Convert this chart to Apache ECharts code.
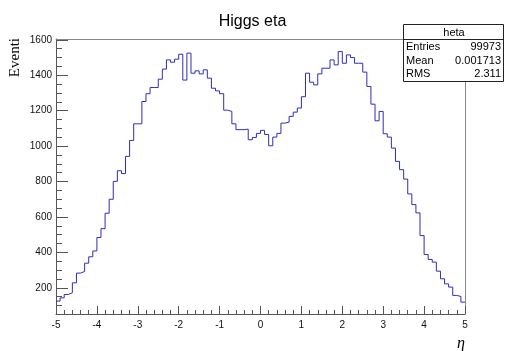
<!DOCTYPE html>
<html><head><meta charset="utf-8">
<script src="https://cdn.jsdelivr.net/npm/echarts@6/dist/echarts.min.js"></script>
<style>html,body{margin:0;padding:0;background:#fff}#c{width:505px;height:351px}</style>
</head><body><div id="c"></div>
<script>
// ---- data ----
const titleText = 'Higgs eta';
const xMin = -5, xMax = 5;
const counts = [
  125, 143, 162, 172, 228, 283, 292, 339, 375, 408,
  484, 534, 621, 700, 801, 861, 845, 942, 1032, 1126,
  1126, 1252, 1296, 1331, 1331, 1378, 1435, 1487, 1474, 1491,
  1519, 1373, 1525, 1412, 1425, 1408, 1431, 1384, 1327, 1312,
  1296, 1203, 1196, 1126, 1093, 1093, 1096, 1036, 1049, 1072,
  1089, 1066, 1002, 1051, 1072, 1130, 1136, 1168, 1192, 1215,
  1279, 1412, 1361, 1346, 1408, 1440, 1440, 1487, 1459, 1534,
  1468, 1515, 1500, 1468, 1468, 1418, 1337, 1237, 1143, 1196,
  1070, 1051, 989, 914, 867, 814, 730, 670, 623, 495,
  388, 360, 345, 294, 251, 222, 204, 157, 151, 119
];
const yMin = 52, yMax = 1605;
const yTickValues = [200, 400, 600, 800, 1000, 1200, 1400, 1600];
const xTickValues = [-5, -4, -3, -2, -1, 0, 1, 2, 3, 4, 5];
const statsName = 'heta';
const statsLabels = ['Entries', 'Mean', 'RMS'];
const statsValues = ['99973', '0.001713', '2.311'];
const yTitle = 'Eventi';
const xTitle = 'η';

// ---- build ----
const nBins = counts.length;
const bw = (xMax - xMin) / nBins;
const stepData = counts.map((v, i) => [xMin + i * bw, v]);
stepData.push([xMax, counts[nBins - 1]]);
const yMinor = [];
for (let v = Math.ceil(yMin / 50) * 50; v <= yMax; v += 50) yMinor.push(v);

const SANS = 'Liberation Sans, Arial, Helvetica, sans-serif';
const SERIF = 'Liberation Serif, Times New Roman, serif';
const axisCol = '#555';
const G = { left: 56, right: 40, top: 39, bottom: 37 };
const plain = v => String(v);

const chart = echarts.init(document.getElementById('c'), null, { renderer: 'canvas' });
const statsGraphics = [
  { type: 'rect', shape: { x: 403.5, y: 24.5, width: 100, height: 57 },
    style: { fill: '#fff', stroke: '#222', lineWidth: 1 }, z: 100 },
  { type: 'line', shape: { x1: 403.5, y1: 39.5, x2: 503.5, y2: 39.5 },
    style: { stroke: '#222', lineWidth: 1 }, z: 101 },
  { type: 'text', x: 454, y: 32.5, z: 102,
    style: { text: statsName, font: '11px ' + SANS, fill: '#000', textAlign: 'center', textVerticalAlign: 'middle' } }
];
statsLabels.forEach((lab, i) => {
  const y = 47 + i * 13.5;
  statsGraphics.push({ type: 'text', x: 406, y: y, z: 102,
    style: { text: lab, font: '11px ' + SANS, fill: '#000', textAlign: 'left', textVerticalAlign: 'middle' } });
  statsGraphics.push({ type: 'text', x: 501, y: y, z: 102,
    style: { text: statsValues[i], font: '11px ' + SANS, fill: '#000', textAlign: 'right', textVerticalAlign: 'middle' } });
});

chart.setOption({
  animation: false,
  backgroundColor: '#fff',
  title: { text: titleText, left: 'center', top: 9,
    textStyle: { fontFamily: SANS, fontSize: 16, fontWeight: 'normal', color: '#000' } },
  grid: G,
  xAxis: [
    { type: 'value', min: xMin, max: xMax, interval: 1, position: 'bottom',
      axisLine: { show: true, onZero: false, lineStyle: { color: axisCol, width: 1 } },
      axisTick: { show: true, inside: true, length: 8, lineStyle: { color: axisCol } },
      minorTick: { show: true, splitNumber: 5, length: 4, lineStyle: { color: axisCol } },
      axisLabel: { show: true, formatter: plain, fontFamily: SANS, fontSize: 10, color: '#111', margin: 6 },
      splitLine: { show: false }, minorSplitLine: { show: false } },
    { type: 'value', min: xMin, max: xMax, position: 'top',
      axisLine: { show: true, onZero: false, lineStyle: { color: '#888', width: 1 } },
      axisTick: { show: false }, axisLabel: { show: false }, splitLine: { show: false } }
  ],
  yAxis: [
    { type: 'value', min: yMin, max: yMax, position: 'left',
      axisLine: { show: true, onZero: false, lineStyle: { color: axisCol, width: 1 } },
      axisTick: { show: true, inside: true, length: 12, customValues: yTickValues, lineStyle: { color: axisCol } },
      axisLabel: { show: true, customValues: yTickValues, formatter: plain, fontFamily: SANS, fontSize: 10, color: '#111', margin: 4 },
      splitLine: { show: false } },
    { type: 'value', min: yMin, max: yMax, position: 'left',
      axisLine: { show: false, onZero: false },
      axisTick: { show: true, inside: true, length: 6, customValues: yMinor, lineStyle: { color: axisCol } },
      axisLabel: { show: false }, splitLine: { show: false } },
    { type: 'value', min: yMin, max: yMax, position: 'right',
      axisLine: { show: true, onZero: false, lineStyle: { color: '#888', width: 1 } },
      axisTick: { show: false }, axisLabel: { show: false }, splitLine: { show: false } }
  ],
  series: [{
    type: 'line', step: 'end', data: stepData, xAxisIndex: 0, yAxisIndex: 0,
    symbol: 'none', showSymbol: false, clip: true,
    lineStyle: { color: '#2e2eb8', width: 1 }
  }],
  graphic: [
    { type: 'text', x: 15, y: 38, rotation: Math.PI / 2,
      style: { text: yTitle, font: '15px ' + SERIF, fill: '#000', textAlign: 'right', textVerticalAlign: 'middle' } },
    { type: 'text', x: 465, y: 344,
      style: { text: xTitle, font: 'italic 16px ' + SERIF, fill: '#000', textAlign: 'right', textVerticalAlign: 'middle' } }
  ].concat(statsGraphics)
});
</script></body></html>
